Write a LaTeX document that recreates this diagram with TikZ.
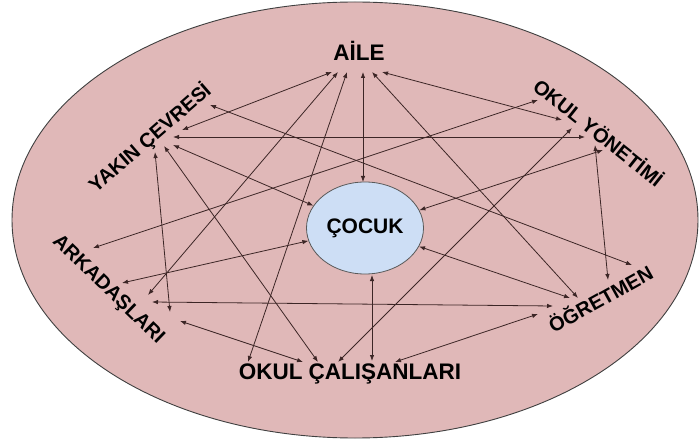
\documentclass[tikz,border=0pt]{standalone}
\usepackage{fontspec}
\setmainfont{Liberation Sans}
\usetikzlibrary{arrows.meta,shapes.geometric}
\definecolor{rose}{RGB}{224,184,184}
\definecolor{sky}{RGB}{205,222,245}
\definecolor{ink}{RGB}{60,38,38}
\begin{document}
\begin{tikzpicture}[x=1pt,y=-1pt,
  lbl/.style={font=\bfseries\fontsize{20}{24}\selectfont,inner sep=0pt},
  wide/.style={lbl,font=\bfseries\fontsize{22.5}{24}\selectfont},
  link/.style={<->,>={Latex[length=6pt,width=4.5pt]},draw=ink,line width=.8pt}]
  \useasboundingbox[fill=white] (0,0) rectangle (700,443);
  \draw[fill=rose,draw=black!75,line width=.9pt] (355,220) ellipse [x radius=343pt,y radius=218pt];
  % labels
  \node[wide] (a) at (359,51) {AİLE};
  \node[lbl,rotate=41] (yk) at (150,138) {YAKIN ÇEVRESİ};
  \node[lbl,rotate=-38.5] (oy) at (599,132) {OKUL YÖNETİMİ};
  \node[lbl,rotate=-44] (ar) at (108,290) {ARKADAŞLARI};
  \node[lbl,rotate=29] (og) at (600,298) {ÖĞRETMEN};
  \node[wide] (oc) at (350,374) {OKUL ÇALIŞANLARI};
  \node[lbl,font=\bfseries\fontsize{21}{24}\selectfont,ellipse,draw=black!65,line width=.8pt,fill=sky,
        minimum width=117pt,minimum height=92pt] (cc) at (365,228) {ÇOCUK};
  % arrow ends
  \coordinate (a-yk) at (332,72); \coordinate (a-ar) at (338,72);
  \coordinate (a-oc) at (347,72); \coordinate (a-cc) at (363,72);
  \coordinate (a-og) at (372,72); \coordinate (a-oy) at (382,72);
  \coordinate (yk-a) at (182,130); \coordinate (yk-oy) at (173,137);
  \coordinate (yk-cc) at (173,145); \coordinate (yk-oc) at (164,146);
  \coordinate (yk-ar) at (155,152); \coordinate (yk-og) at (210,105);
  \coordinate (oy-ar) at (538,100); \coordinate (oy-a) at (562,120);
  \coordinate (oy-oc) at (572,128); \coordinate (oy-yk) at (585,137);
  \coordinate (oy-og) at (595,145); \coordinate (oy-cc) at (603,150);
  \coordinate (ar-oy) at (93,248); \coordinate (ar-cc) at (122,283);
  \coordinate (ar-a) at (148,295); \coordinate (ar-og) at (152,302);
  \coordinate (ar-yk) at (170,312); \coordinate (ar-oc) at (180,321);
  \coordinate (oc-a) at (248,362); \coordinate (oc-ar) at (303,362);
  \coordinate (oc-yk) at (318,362); \coordinate (oc-oy) at (338,362);
  \coordinate (oc-cc) at (372,361); \coordinate (oc-og) at (395,362);
  \coordinate (og-oc) at (538,314); \coordinate (og-ar) at (553,306);
  \coordinate (og-cc) at (570,298); \coordinate (og-a) at (578,298);
  \coordinate (og-oy) at (608,280); \coordinate (og-yk) at (632,265);
  \coordinate (cc-a) at (363,182); \coordinate (cc-oc) at (372,275);
  % links
  \draw[link] (a-cc)--(cc-a);
  \draw[link] (a-yk)--(yk-a);
  \draw[link] (a-ar)--(ar-a);
  \draw[link] (a-oc)--(oc-a);
  \draw[link] (a-og)--(og-a);
  \draw[link] (a-oy)--(oy-a);
  \draw[link] (yk-oy)--(oy-yk);
  \draw[link] (yk-cc)--(cc);
  \draw[link] (yk-oc)--(oc-yk);
  \draw[link] (yk-ar)--(ar-yk);
  \draw[link] (yk-og)--(og-yk);
  \draw[link] (oy-ar)--(ar-oy);
  \draw[link] (oy-oc)--(oc-oy);
  \draw[link] (oy-og)--(og-oy);
  \draw[link] (oy-cc)--(cc);
  \draw[link] (ar-cc)--(cc);
  \draw[link] (ar-og)--(og-ar);
  \draw[link] (ar-oc)--(oc-ar);
  \draw[link] (oc-cc)--(cc-oc);
  \draw[link] (oc-og)--(og-oc);
  \draw[link] (og-cc)--(cc);
\end{tikzpicture}
\end{document}
